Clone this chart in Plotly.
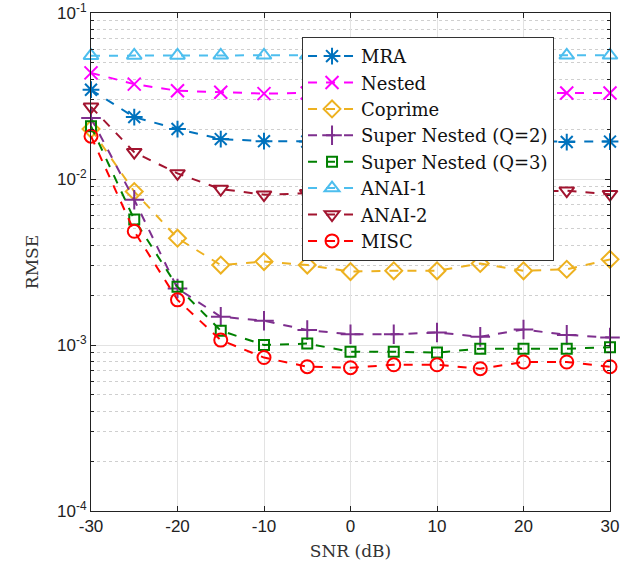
import plotly.graph_objects as go

snr = [-30, -25, -20, -15, -10, -5, 0, 5, 10, 15, 20, 25, 30]

mra = [0.0345, 0.0236, 0.0200, 0.0174, 0.0169, 0.0168, 0.0168, 0.0168, 0.0168, 0.0168, 0.0168, 0.0167, 0.0168]
nested = [0.0436, 0.0373, 0.0340, 0.0333, 0.0327, 0.0330, 0.0330, 0.0330, 0.0330, 0.0330, 0.0330, 0.0330, 0.0330]
coprime = [0.0200, 0.0084, 0.0044, 0.00303, 0.00318, 0.00303, 0.00277, 0.00280, 0.00280, 0.00310, 0.00280, 0.00286, 0.00328]
super_q2 = [0.0233, 0.0075, 0.00219, 0.00148, 0.00140, 0.00123, 0.00116, 0.00116, 0.00119, 0.00112, 0.00124, 0.00115, 0.00111]
super_q3 = [0.0208, 0.0057, 0.00224, 0.00122, 0.00100, 0.00102, 0.00091, 0.00091, 0.00090, 0.00095, 0.00095, 0.00095, 0.00097]
anai1 = [0.0553, 0.0555, 0.0555, 0.0556, 0.0556, 0.0556, 0.0556, 0.0556, 0.0556, 0.0556, 0.0556, 0.0556, 0.0556]
anai2 = [0.0272, 0.0145, 0.0108, 0.0087, 0.00805, 0.0082, 0.0082, 0.0082, 0.0083, 0.0083, 0.0084, 0.0085, 0.0081]
misc = [0.0181, 0.00484, 0.00187, 0.00107, 0.00084, 0.00074, 0.00073, 0.00076, 0.00076, 0.00072, 0.00079, 0.00079, 0.00074]

x_ticks = [-30, -20, -10, 0, 10, 20, 30]
x_tick_labels = ["-30", "-20", "-10", "0", "10", "20", "30"]
y_ticks = [1e-4, 1e-3, 1e-2, 1e-1]
y_tick_labels = ["10<sup>-4</sup>", "10<sup>-3</sup>", "10<sup>-2</sup>", "10<sup>-1</sup>"]
y_minor = [m * d for d in y_ticks[:-1] for m in range(2, 10)]

series = [
    ("MRA", mra, "#0072BD", "asterisk-open"),
    ("Nested", nested, "#FF00FF", "x-thin-open"),
    ("Coprime", coprime, "#EDB120", "diamond-open"),
    ("Super Nested (Q=2)", super_q2, "#7E2F8E", "cross-thin-open"),
    ("Super Nested (Q=3)", super_q3, "#008000", "square-open"),
    ("ANAI-1", anai1, "#4DBEEE", "triangle-up-open"),
    ("ANAI-2", anai2, "#A2142F", "triangle-down-open"),
    ("MISC", misc, "#FF0000", "circle-open"),
]

sizes = {"square-open": 10, "asterisk-open": 14, "x-thin-open": 13, "cross-thin-open": 14}

fig = go.Figure()
for name, vals, color, sym in series:
    fig.add_trace(go.Scatter(
        x=snr, y=vals, name=name, mode="lines+markers",
        line=dict(color=color, width=2, dash="dash"),
        marker=dict(symbol=sym, size=sizes.get(sym, 13), color=color,
                    line=dict(color=color, width=2)),
        cliponaxis=False,
    ))

serif = "DejaVu Serif, Liberation Serif, serif"
sans = "Liberation Sans, Arial, sans-serif"

fig.update_layout(
    width=643, height=572,
    margin=dict(l=91, r=33, t=13, b=61, autoexpand=False),
    paper_bgcolor="white", plot_bgcolor="white",
    showlegend=True,
    legend=dict(
        x=0.4066, y=0.952, xanchor="left", yanchor="top",
        font=dict(family=serif, size=18, color="#111"),
        bordercolor="#333", borderwidth=1, bgcolor="white",
        tracegroupgap=0, itemwidth=48,
    ),
    xaxis=dict(
        range=[-30, 30], tickvals=x_ticks, ticktext=x_tick_labels,
        automargin=False,
        showgrid=True, gridcolor="#e3e3e3", gridwidth=1,
        ticks="inside", ticklen=5, tickcolor="#222",
        showline=True, linecolor="#222", linewidth=1, mirror="ticks",
        zeroline=False,
        tickfont=dict(family=sans, size=17, color="#222"),
        title=dict(text="SNR (dB)", font=dict(family=serif, size=17, color="#333"), standoff=9),
    ),
    yaxis=dict(
        type="log", range=[-4, -1], tickvals=y_ticks, ticktext=y_tick_labels,
        automargin=False,
        showgrid=True, gridcolor="#e3e3e3", gridwidth=1,
        ticks="inside", ticklen=5, tickcolor="#222",
        showline=True, linecolor="#222", linewidth=1, mirror="ticks",
        zeroline=False,
        tickfont=dict(family=sans, size=17, color="#222"),
        minor=dict(tickvals=y_minor, showgrid=True, gridcolor="#cfcfcf", griddash="dot",
                   ticks="inside", ticklen=3, tickcolor="#222"),
        title=dict(text="RMSE", font=dict(family=serif, size=17, color="#333"), standoff=14),
    ),
)

fig.write_html("out.html", config={"displayModeBar": False})

with open("out.html", "r", encoding="utf-8") as f:
    html = f.read()
html = html.replace("<head>", "<head><style>html,body{margin:0;padding:0;}</style>", 1)
with open("out.html", "w", encoding="utf-8") as f:
    f.write(html)
